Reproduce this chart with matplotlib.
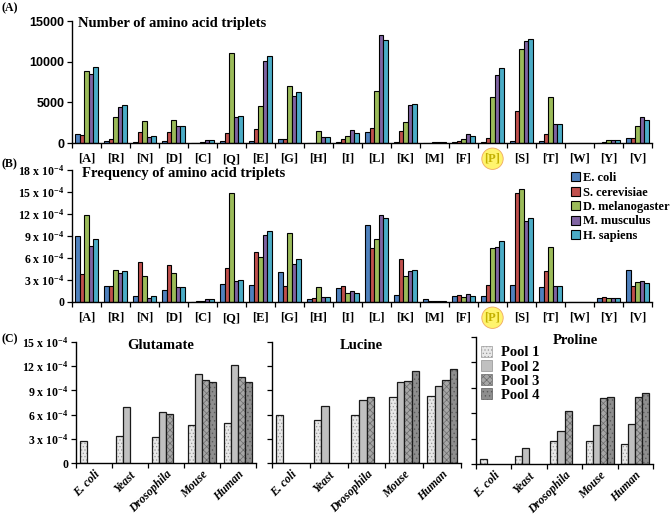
import numpy as np
import matplotlib
matplotlib.use('Agg')
import matplotlib.pyplot as plt
import matplotlib.transforms as mtransforms
from matplotlib.patches import Patch

plt.rcParams['font.family'] = ['Liberation Serif', 'DejaVu Serif']
plt.rcParams['font.weight'] = 'bold'
plt.rcParams['mathtext.fontset'] = 'custom'
plt.rcParams['mathtext.rm'] = 'Liberation Serif:bold'
plt.rcParams['mathtext.it'] = 'Liberation Serif:bold'
plt.rcParams['mathtext.bf'] = 'Liberation Serif:bold'
plt.rcParams['hatch.linewidth'] = 0.5

# ---------------- data ----------------
amino_acids = ['A', 'R', 'N', 'D', 'C', 'Q', 'E', 'G', 'H', 'I',
               'L', 'K', 'M', 'F', 'P', 'S', 'T', 'W', 'Y', 'V']
species = ['E. coli', 'S. cerevisiae', 'D. melanogaster', 'M. musculus', 'H. sapiens']
species_colors = ['#4F81BD', '#C0504D', '#9BBB59', '#8064A2', '#4BACC6']

count_ecoli = [1150, 300, 100, 200, 50, 300, 250, 500, 50, 150, 1400, 100, 50, 80, 80, 300, 200, 30, 50, 600]
count_scer = [1000, 550, 1400, 1350, 50, 1200, 1750, 550, 50, 500, 1900, 1500, 50, 200, 600, 3900, 1100, 30, 150, 600]
count_dmel = [8800, 3200, 2700, 2850, 100, 11100, 4550, 7000, 1450, 850, 6400, 2550, 80, 500, 5600, 11600, 5650, 30, 350, 2050]
count_mmus = [8500, 4400, 750, 2150, 400, 3250, 10100, 5750, 750, 1600, 13300, 4700, 100, 1100, 8400, 12500, 2300, 30, 400, 3200]
count_hsap = [9300, 4650, 850, 2100, 400, 3300, 10700, 6300, 750, 1250, 12700, 4750, 80, 800, 9200, 12800, 2350, 30, 400, 2800]
counts = [count_ecoli, count_scer, count_dmel, count_mmus, count_hsap]

# frequencies in units of 1e-4
freq_ecoli = [9.0, 2.2, 0.8, 1.6, 0.05, 2.45, 2.35, 4.15, 0.4, 1.9, 10.5, 1.0, 0.4, 0.8, 0.85, 2.3, 2.0, 0.05, 0.5, 4.3]
freq_scer = [3.8, 2.2, 5.4, 5.1, 0.1, 4.7, 6.85, 2.2, 0.5, 2.2, 7.3, 5.8, 0.2, 1.0, 2.3, 14.8, 4.2, 0.05, 0.65, 2.2]
freq_dmel = [11.9, 4.3, 3.6, 3.9, 0.2, 14.9, 6.15, 9.4, 2.0, 1.2, 8.6, 3.5, 0.2, 0.65, 7.4, 15.4, 7.55, 0.05, 0.6, 2.7]
freq_mmus = [7.6, 4.0, 0.6, 2.1, 0.35, 2.9, 9.1, 5.2, 0.65, 1.45, 11.9, 4.25, 0.2, 1.1, 7.45, 11.0, 2.15, 0.05, 0.5, 2.85]
freq_hsap = [8.6, 4.2, 0.8, 2.0, 0.4, 3.0, 9.7, 5.85, 0.65, 1.2, 11.45, 4.4, 0.1, 0.85, 8.3, 11.5, 2.25, 0.05, 0.55, 2.65]
freqs = [freq_ecoli, freq_scer, freq_dmel, freq_mmus, freq_hsap]

organisms = ['E. coli', 'Yeast', 'Drosophila', 'Mouse', 'Human']
pools = ['Pool 1', 'Pool 2', 'Pool 3', 'Pool 4']
nan = np.nan
glu_pool1 = [2.7, 3.35, 3.25, 4.7, 5.0]
glu_pool2 = [nan, 7.0, 6.35, 11.0, 12.1]
glu_pool3 = [nan, nan, 6.1, 10.3, 10.6]
glu_pool4 = [nan, nan, nan, 10.0, 10.0]
leu_pool1 = [5.9, 5.35, 5.95, 8.2, 8.25]
leu_pool2 = [nan, 7.1, 7.85, 10.0, 9.55]
leu_pool3 = [nan, nan, 8.2, 10.2, 10.25]
leu_pool4 = [nan, nan, nan, 11.4, 11.7]
pro_pool1 = [0.6, 0.9, 2.7, 2.7, 2.35]
pro_pool2 = [nan, 1.9, 3.85, 4.55, 4.7]
pro_pool3 = [nan, nan, 6.3, 7.85, 7.95]
pro_pool4 = [nan, nan, nan, 7.9, 8.4]

freq_ticks = [0, 3, 6, 9, 12, 15, 18]
count_ticks = [0, 5000, 10000, 15000]
pool_ticks = [0, 3, 6, 9, 12, 15]

pool_colors = ['#e8e8e8', '#c0c0c0', '#a6a6a6', '#8e8e8e']
pool_hatches = ['.....', None, 'xxxxx', '....']
pool_hatch_colors = ['#9a9a9a', '#c0c0c0', '#6a6a6a', '#5a5a5a']

# ---------------- figure ----------------
W, H = 670, 523
fig = plt.figure(figsize=(W / 100, H / 100), dpi=100)


def px_axes(l, t, r, b):
    return fig.add_axes([l / W, (H - b) / H, (r - l) / W, (b - t) / H])


def freq_label(v):
    return '0' if v == 0 else r'%d x 10$^{-4}$' % v


def style_axes(ax):
    for s in ['top', 'right']:
        ax.spines[s].set_visible(False)
    for s in ['left', 'bottom']:
        ax.spines[s].set_linewidth(1.0)
    ax.tick_params(axis='both', which='both', direction='out', width=0.9, length=3.5, pad=2)


def grouped_panel(ax, data, ymax, yticks, ylabels, ylabel_font):
    n = len(amino_acids)
    x = np.arange(n) + 0.5
    w = 0.16
    for j, (vals, c) in enumerate(zip(data, species_colors)):
        ax.bar(x + (j - 2) * w, vals, width=w, color=c, edgecolor='black', linewidth=0.8)
    ax.set_xlim(0, n)
    ax.set_ylim(0, ymax)
    style_axes(ax)
    ax.set_yticks(yticks)
    ax.set_yticklabels(ylabels, **ylabel_font)
    ax.set_xticks(np.arange(n + 1), minor=True)
    ax.set_xticks(x)
    ax.set_xticklabels(['[%s]' % a for a in amino_acids], fontsize=9, fontweight='bold')
    ax.tick_params(axis='x', which='major', length=0, pad=7)
    ax.tick_params(axis='x', which='minor', length=3.5)
    lab = ax.get_xticklabels()[amino_acids.index('P')]
    lab.set_color('#c4b100')
    lab.set_bbox(dict(boxstyle='circle,pad=0.22', fc='#fff46e', ec='#f0a860', lw=0.6))


# Panel A
axA = px_axes(72, 21, 652, 143)
grouped_panel(axA, counts, 15000, count_ticks, [str(t) for t in count_ticks],
              dict(family='Liberation Sans', fontweight='bold', fontsize=9))
axA.text(0.01, 0.98, 'Number of amino acid triplets', transform=axA.transAxes,
         fontsize=10.5, fontweight='bold', va='center', ha='left')

# Panel B
axB = px_axes(72, 170, 652, 302)
grouped_panel(axB, freqs, 18, freq_ticks, [freq_label(t) for t in freq_ticks],
              dict(fontsize=8.5, fontweight='bold'))
axB.text(0.017, 0.975, 'Frequency of amino acid triplets', transform=axB.transAxes,
         fontsize=10.5, fontweight='bold', va='center', ha='left')
handles = [Patch(facecolor=c, edgecolor='black', linewidth=0.8, label=s)
           for s, c in zip(species, species_colors)]
fig.legend(handles=handles, loc='upper left', bbox_to_anchor=(571 / W, 1 - 172 / H),
           frameon=False, handlelength=0.7, handleheight=0.7,
           handletextpad=0.25, labelspacing=0.2, borderpad=0, borderaxespad=0,
           prop=dict(weight='bold', size=9))

# Panel C
pool_sets = [
    ('Glutamate', [glu_pool1, glu_pool2, glu_pool3, glu_pool4], (76, 342, 256, 463)),
    ('Lucine', [leu_pool1, leu_pool2, leu_pool3, leu_pool4], (272, 342, 461, 463)),
    ('Proline', [pro_pool1, pro_pool2, pro_pool3, pro_pool4], (476, 337, 653, 464)),
]
axesC = []
for k, (title, pdata, box) in enumerate(pool_sets):
    ax = px_axes(*box)
    axesC.append(ax)
    n = len(organisms)
    bw = 0.2
    for j, vals in enumerate(pdata):
        vals = np.asarray(vals, dtype=float)
        idx = np.where(~np.isnan(vals))[0]
        xs = idx + 0.1 + bw * (j + 0.5)
        # fill + hatch (hatch colour taken from edgecolor, so no outline here)
        ax.bar(xs, vals[idx], width=bw, color=pool_colors[j], hatch=pool_hatches[j],
               edgecolor=pool_hatch_colors[j], linewidth=0)
        # black outline
        ax.bar(xs, vals[idx], width=bw, fill=False, edgecolor='#1a1a1a', linewidth=0.9)
    ax.set_xlim(0, n)
    ax.set_ylim(0, 15)
    style_axes(ax)
    ax.set_yticks(pool_ticks)
    if k == 0:
        ax.set_yticklabels([freq_label(t) for t in pool_ticks], fontsize=8.5, fontweight='bold')
    else:
        ax.set_yticklabels([])
    ax.set_xticks(np.arange(n + 1), minor=True)
    ax.set_xticks(np.arange(n) + 0.5)
    ax.set_xticklabels(organisms, rotation=45, ha='right', va='top', rotation_mode='anchor',
                       fontsize=8.5, fontweight='bold', fontstyle='italic')
    off = mtransforms.ScaledTranslation(-4 / 100, -2 / 100, fig.dpi_scale_trans)
    for lab in ax.get_xticklabels():
        lab.set_transform(lab.get_transform() + off)
    ax.tick_params(axis='x', which='major', length=0, pad=4)
    ax.tick_params(axis='x', which='minor', length=3.5)
    ax.text(0.47 if k < 2 else 0.56, 0.97, title, transform=ax.transAxes, fontsize=10.5,
            fontweight='bold', ha='center', va='center')

pool_handles = [Patch(facecolor=pool_colors[j], hatch=pool_hatches[j],
                      edgecolor=pool_hatch_colors[j] if pool_hatches[j] else '#909090',
                      linewidth=0.5, label=pools[j]) for j in range(4)]
axesC[2].legend(handles=pool_handles, loc='upper left', bbox_to_anchor=(481 / W, 1 - 346 / H),
                bbox_transform=fig.transFigure, frameon=False, handlelength=0.75,
                handleheight=0.75, handletextpad=0.6, labelspacing=0.05, borderpad=0,
                borderaxespad=0, prop=dict(weight='bold', size=10.5))

# panel letters
fig.text(1 / W, 1 - 8 / H, '(A)', fontsize=8.5, fontweight='bold', va='center')
fig.text(1 / W, 1 - 164 / H, '(B)', fontsize=8.5, fontweight='bold', va='center')
fig.text(1 / W, 1 - 339 / H, '(C)', fontsize=8.5, fontweight='bold', va='center')

fig.savefig('out.png', dpi=100)
